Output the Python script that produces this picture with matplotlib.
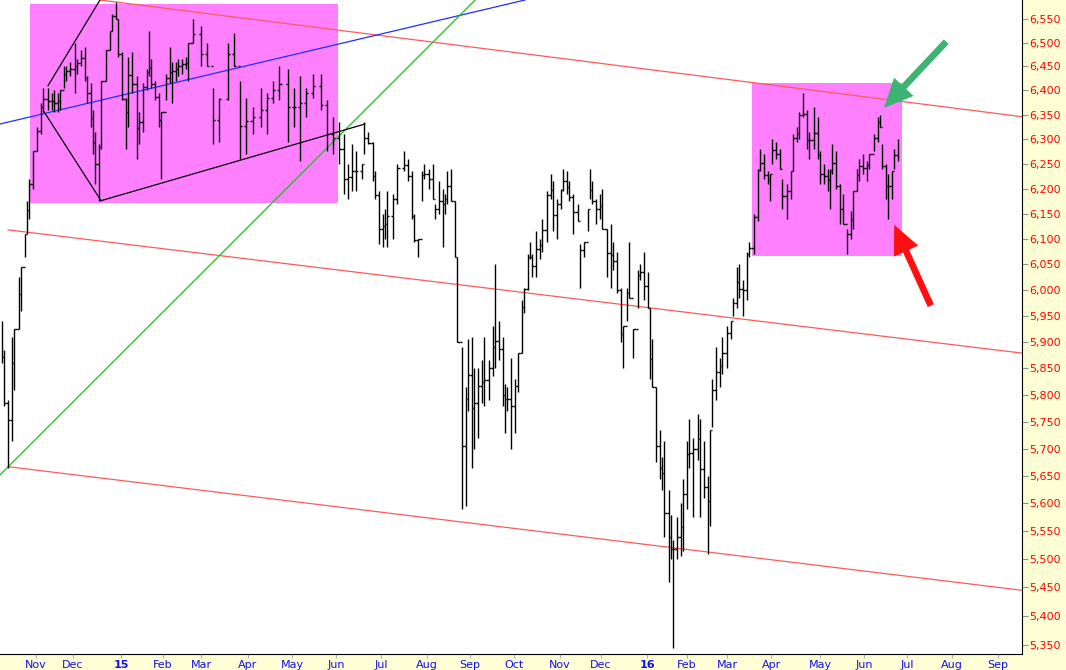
import numpy as np
import matplotlib.pyplot as plt
from matplotlib.ticker import FixedLocator, FixedFormatter, NullLocator
from matplotlib.patches import Rectangle, FancyArrowPatch
from matplotlib.collections import LineCollection

### Données (séance = jour de bourse depuis fin oct. 2014)
session = [1, 2, 4, 6, 7, 9, 10, 12, 13, 14, 16,
           18, 20, 21, 23, 25, 26, 28, 29, 31, 32, 34, 36, 37, 39, 41, 42, 44, 45, 46, 48,
           49, 51, 53, 54, 56, 57, 59, 61, 62, 64, 66, 67, 69, 71, 72, 73, 75, 77, 78, 80,
           82, 83, 85, 86, 88, 90, 91, 93,
           97, 100, 103, 106, 110, 113, 116, 119, 122, 126, 129, 132, 135, 139, 142, 145,
           148, 151, 155, 158, 161, 164, 166, 168, 170, 172, 175, 176, 178, 180, 181, 183,
           185, 186, 187, 190, 192, 195, 197, 199, 200, 202, 204, 205, 207, 209, 210, 212,
           214, 215, 216, 218, 220, 221, 223, 225, 226, 228, 229, 231, 233, 234, 236, 238,
           239, 241, 243, 244, 245, 247, 249, 250, 252, 253, 255, 256, 257, 259, 261, 262,
           264, 266, 267, 269, 271, 272, 274, 275, 277, 279, 280, 282, 284, 285, 286, 288,
           290, 291, 293, 295, 296, 298, 300, 301, 303, 304, 306, 308, 309, 311, 313, 314,
           315, 317, 319, 320, 321, 323, 324, 325, 327, 329, 330, 332, 333, 335, 337, 338,
           340, 342, 343, 344, 346, 348, 349, 351, 353, 354, 356, 357, 359, 361, 362, 364,
           366, 367, 369, 371, 372, 373, 375, 377, 378, 380, 382, 383, 385, 386, 388, 390,
           391, 393, 395, 396, 398, 400, 401, 402, 404, 406, 407, 409, 411, 412, 414, 415,
           417, 419, 420, 422, 424, 425, 426, 428, 429, 431, 432, 434]

high = [5940, 5885, 5790, 5910, 5925, 6025, 6045, 6110, 6175, 6220, 6275,
        6325, 6375, 6405, 6405, 6395, 6400, 6395, 6400, 6450, 6450, 6460, 6500, 6465, 6485, 6490, 6430, 6415, 6360, 6315, 6290,
        6420, 6485, 6525, 6560, 6585, 6550, 6480, 6385, 6470, 6480, 6430, 6355, 6415, 6445, 6525, 6465, 6420, 6395, 6355, 6435,
        6490, 6460, 6460, 6465, 6465, 6470, 6500, 6550,
        6535, 6500, 6405, 6385, 6500, 6520, 6420, 6385, 6365, 6405, 6395, 6420, 6450, 6445, 6405, 6430,
        6405, 6435, 6435, 6380, 6345, 6335, 6310, 6250, 6290, 6275, 6250, 6335, 6315, 6295, 6235, 6195,
        6150, 6160, 6195, 6190, 6250, 6275, 6260, 6235, 6150, 6100, 6235, 6250, 6240, 6250, 6170, 6215,
        6200, 6190, 6235, 6240, 6175, 6065, 5890, 5815, 5905, 5910, 5850, 5850, 5865, 5910, 5865, 5930,
        6050, 5940, 5910, 5820, 5815, 5870, 5830, 5880, 5980, 6005, 6070, 6095, 6070, 6115, 6100, 6140,
        6195, 6230, 6215, 6180, 6200, 6240, 6235, 6215, 6190, 6170, 6090, 6095, 6160, 6240, 6215, 6180,
        6190, 6200, 6120, 6130, 6095, 6075, 6005, 5930, 6005, 6095, 5925, 6040, 6050, 6075, 6035, 5965,
        5905, 5815, 5735, 5685, 5715, 5625, 5580, 5535, 5575, 5600, 5645, 5715, 5755, 5720, 5765, 5755,
        5715, 5650, 5735, 5830, 5890, 5870, 5910, 5930, 5940, 5985, 6045, 6050, 6020, 6075, 6095, 6150,
        6240, 6280, 6270, 6235, 6230, 6300, 6295, 6280, 6220, 6210, 6235, 6310, 6325, 6355, 6395, 6360,
        6315, 6365, 6345, 6275, 6250, 6240, 6240, 6290, 6275, 6210, 6190, 6120, 6155, 6195, 6240, 6260,
        6270, 6255, 6270, 6310, 6345, 6350, 6290, 6250, 6230, 6235, 6280, 6300]

low = [5860, 5780, 5665, 5715, 5810, 5925, 5960, 6065, 6110, 6140, 6200,
       6275, 6310, 6355, 6360, 6360, 6355, 6355, 6360, 6405, 6420, 6430, 6395, 6435, 6450, 6420, 6375, 6325, 6270, 6210, 6175,
       6280, 6420, 6485, 6525, 6550, 6470, 6380, 6280, 6325, 6395, 6260, 6290, 6315, 6400, 6430, 6405, 6380, 6325, 6220, 6380,
       6415, 6375, 6420, 6430, 6435, 6445, 6420, 6500,
       6450, 6450, 6290, 6295, 6380, 6450, 6260, 6270, 6310, 6325, 6310, 6375, 6380, 6295, 6325, 6255,
       6345, 6385, 6360, 6275, 6270, 6250, 6190, 6180, 6195, 6195, 6220, 6270, 6290, 6215, 6180, 6090,
       6085, 6100, 6085, 6100, 6170, 6235, 6215, 6140, 6095, 6065, 6175, 6220, 6200, 6180, 6140, 6150,
       6085, 6150, 6170, 6175, 6065, 5900, 5590, 5595, 5770, 5665, 5700, 5720, 5785, 5780, 5790, 5835,
       5850, 5865, 5780, 5730, 5770, 5700, 5730, 5805, 5880, 5955, 6000, 6060, 6025, 6025, 6060, 6075,
       6095, 6180, 6115, 6100, 6160, 6195, 6190, 6175, 6110, 6135, 6005, 6065, 6115, 6180, 6170, 6130,
       6140, 6120, 6025, 6005, 6040, 5995, 5900, 5850, 5940, 5985, 5870, 5965, 6020, 5980, 5965, 5830,
       5815, 5675, 5645, 5625, 5540, 5460, 5500, 5345, 5500, 5505, 5515, 5590, 5665, 5575, 5680, 5575,
       5610, 5510, 5560, 5740, 5790, 5815, 5840, 5850, 5905, 5950, 5965, 5985, 5950, 5980, 6065, 6070,
       6135, 6235, 6220, 6210, 6175, 6250, 6260, 6240, 6160, 6140, 6180, 6235, 6295, 6300, 6345, 6280,
       6260, 6280, 6260, 6210, 6210, 6195, 6160, 6230, 6200, 6130, 6130, 6070, 6100, 6120, 6195, 6215,
       6230, 6215, 6240, 6275, 6295, 6325, 6240, 6180, 6140, 6180, 6240, 6255]

# Axe des temps
month_pos = [17.4, 35.3, 58.5, 78.7, 97.1, 119.8, 141.1, 162.3, 184.1, 206.3, 227.1, 248.3,
             270.5, 290.3, 312.6, 331.9, 351.2, 372.5, 396.1, 417.4, 438.2, 459.9, 482.1]
month_lab = ['Nov', 'Dec', '15', 'Feb', 'Mar', 'Apr', 'May', 'Jun', 'Jul', 'Aug', 'Sep', 'Oct',
             'Nov', 'Dec', '16', 'Feb', 'Mar', 'Apr', 'May', 'Jun', 'Jul', 'Aug', 'Sep']
price_ticks = list(range(5350, 6551, 50))

# Lignes de tendance (séance, prix)
upper_red = ([48.3, 493.7], [6590, 6346])
mid_red = ([3.9, 493.7], [6118, 5879])
low_red = ([3.9, 493.7], [5667, 5445])
blue_line = ([0, 253.6], [6331, 6590])
green_line = ([0, 229.5], [5652, 6590])
wedge_top = ([23.2, 48.3], [6410, 6590])
wedge_left = ([21.3, 48.8], [6356, 6176])
wedge_bottom = ([48.8, 176.3], [6176, 6331])

# Zones roses (séance début, fin, prix bas, haut)
boxes = [(14.5, 163.3, 6172, 6582), (363.3, 435.8, 6066, 6415)]

#####################################################################################
fig = plt.figure(figsize=(10.66, 6.70), dpi=100, facecolor='#ffffd6')
ax = fig.add_axes([0, 16 / 670, 1022 / 1066, 654 / 670])
ax.set_facecolor('white')
ax.set_yscale('log')
ax.set_xlim(0, 493.7)
ax.set_ylim(5334, 6590)

for x0, x1, y0, y1 in boxes:
    ax.add_patch(Rectangle((x0, y0), x1 - x0, y1 - y0, color='#ff80ff', lw=0, zorder=1))

### Barres haut-bas + petits traits (ouverture / clôture) entre séances
ax.vlines(session, low, high, color='black', lw=1.0, zorder=3)
segs = []
for i in range(len(session) - 1):
    lo = max(low[i], low[i + 1])
    hi = min(high[i], high[i + 1])
    if lo <= hi:
        c = 0.5 * (lo + hi)
    elif low[i + 1] > high[i]:
        c = high[i]
    else:
        c = low[i]
    d = min(0.5 * (session[i + 1] - session[i]), 1.0)
    segs.append([(session[i], c), (session[i] + d, c)])
    segs.append([(session[i + 1] - d, c), (session[i + 1], c)])
ax.add_collection(LineCollection(segs, colors='black', linewidths=1.0, zorder=3))

for xs, ys in [upper_red, mid_red, low_red]:
    ax.plot(xs, ys, color='#ff5a5a', lw=0.9, zorder=2)
ax.plot(*blue_line, color='#2030ff', lw=0.9, zorder=2)
ax.plot(*green_line, color='#22bb22', lw=0.9, zorder=2)
for xs, ys in [wedge_top, wedge_left, wedge_bottom]:
    ax.plot(xs, ys, color='black', lw=0.9, zorder=4)

# Flèches
for tail, head, col in [((458.0, 6506), (426.1, 6360), '#3cb371'),
                        ((450.2, 5965), (431.4, 6133), '#ff1010')]:
    ax.add_patch(FancyArrowPatch(tail, head, arrowstyle='simple,head_length=1.3,head_width=1.2,tail_width=0.3',
                                 mutation_scale=16, color=col, lw=0, zorder=5))

# Axes
for s in ['left', 'top']:
    ax.spines[s].set_visible(False)
ax.spines['right'].set_color('black')
ax.spines['bottom'].set_color('black')

ax.yaxis.tick_right()
ax.yaxis.set_major_locator(FixedLocator(price_ticks))
ax.yaxis.set_major_formatter(FixedFormatter([f'{v:,}' for v in price_ticks]))
ax.yaxis.set_minor_locator(NullLocator())
ax.tick_params(axis='y', colors='#909090', labelcolor='#ff0000', labelsize=8, length=4, pad=1)

ax.xaxis.set_major_locator(FixedLocator(month_pos))
ax.xaxis.set_major_formatter(FixedFormatter(month_lab))
ax.xaxis.set_minor_locator(NullLocator())
ax.tick_params(axis='x', colors='#b0b0b0', labelcolor='#1010ee', labelsize=8, length=3, pad=1)
for lab in ax.get_xticklabels():
    if lab.get_text() in ('15', '16'):
        lab.set_fontweight('bold')

fig.savefig('out.png', dpi=100, facecolor=fig.get_facecolor())
